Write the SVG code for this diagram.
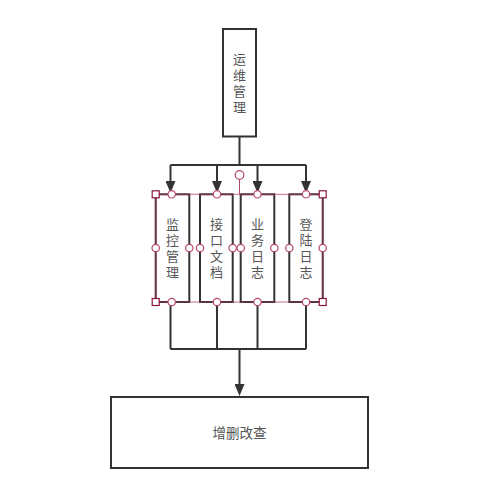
<svg xmlns="http://www.w3.org/2000/svg" width="494" height="493" viewBox="0 0 494 493">
<style>
.box{fill:#fff;stroke:#333;stroke-width:2}
.lbl{font-family:"Noto Sans CJK SC","Noto Sans",sans-serif;font-size:13px;fill:#555;text-anchor:middle}
.con{fill:none;stroke:#333;stroke-width:2}
.h{fill:#fff;stroke:#b5466a;stroke-width:1.2}
.sq{fill:#fff;stroke:#8b1538;stroke-width:1.2}
.sel{fill:none;stroke:#b03060;stroke-width:1;opacity:0.7}
</style>
<defs>
<marker id="arr" viewBox="0 0 12 10" refX="0" refY="5" markerWidth="12" markerHeight="10" markerUnits="userSpaceOnUse" orient="auto">
<path d="M0,0 L12,5 L0,10 z" fill="#333"/>
</marker>
</defs>
<rect width="494" height="493" fill="#fff"/>
<g id="connectors">
<path class="con" d="M239.5,136.5 V165 M170.5,165 H306"/>
<path class="con" d="M170.5,165 V181" marker-end="url(#arr)"/>
<path class="con" d="M217,165 V181" marker-end="url(#arr)"/>
<path class="con" d="M257.5,165 V181" marker-end="url(#arr)"/>
<path class="con" d="M306,165 V181" marker-end="url(#arr)"/>
<path class="con" d="M170.5,302 V349 M217,302 V349 M257.5,302 V349 M306,302 V349 M170.5,349 H306"/>
<path class="con" d="M239.5,349 V384" marker-end="url(#arr)"/>
</g>
<g id="node-ops">
<rect class="box" x="223" y="29" width="33" height="107.5"/>
<text class="lbl" x="239.5" y="64">运<tspan x="239.5" dy="16">维</tspan><tspan x="239.5" dy="16">管</tspan><tspan x="239.5" dy="16">理</tspan></text>
</g>
<g id="node-monitor">
<rect class="box" x="155.7" y="194.3" width="33.6" height="107.7"/>
<text class="lbl" x="172.5" y="229">监<tspan x="172.5" dy="16">控</tspan><tspan x="172.5" dy="16">管</tspan><tspan x="172.5" dy="16">理</tspan></text>
</g>
<g id="node-api">
<rect class="box" x="200" y="194.3" width="32.7" height="107.7"/>
<text class="lbl" x="216.5" y="229">接<tspan x="216.5" dy="16">口</tspan><tspan x="216.5" dy="16">文</tspan><tspan x="216.5" dy="16">档</tspan></text>
</g>
<g id="node-bizlog">
<rect class="box" x="240.7" y="194.3" width="33.6" height="107.7"/>
<text class="lbl" x="257.5" y="229">业<tspan x="257.5" dy="16">务</tspan><tspan x="257.5" dy="16">日</tspan><tspan x="257.5" dy="16">志</tspan></text>
</g>
<g id="node-loginlog">
<rect class="box" x="289.3" y="194.3" width="33.4" height="107.7"/>
<text class="lbl" x="306" y="229">登<tspan x="306" dy="16">陆</tspan><tspan x="306" dy="16">日</tspan><tspan x="306" dy="16">志</tspan></text>
</g>
<g id="node-crud">
<rect class="box" x="111" y="397" width="257" height="71"/>
<text class="lbl" x="239.5" y="438" style="font-size:13.5px">增删改查</text>
</g>
<g id="selection">
<rect class="sel" x="155.7" y="194.3" width="167" height="107.7"/>
<line x1="239.5" y1="179.3" x2="239.5" y2="194.3" stroke="#b5466a" stroke-width="1"/>
<circle class="h" cx="239.5" cy="175" r="4.3"/>
<circle class="h" cx="171.7" cy="194.3" r="3.7"/>
<circle class="h" cx="217" cy="194.3" r="3.7"/>
<circle class="h" cx="257.5" cy="194.3" r="3.7"/>
<circle class="h" cx="306" cy="194.3" r="3.7"/>
<circle class="h" cx="171.7" cy="302" r="3.7"/>
<circle class="h" cx="217" cy="302" r="3.7"/>
<circle class="h" cx="257.5" cy="302" r="3.7"/>
<circle class="h" cx="306" cy="302" r="3.7"/>
<circle class="h" cx="155.7" cy="248" r="3.7"/>
<circle class="h" cx="189.3" cy="248" r="3.7"/>
<circle class="h" cx="200" cy="248" r="3.7"/>
<circle class="h" cx="232.7" cy="248" r="3.7"/>
<circle class="h" cx="240.7" cy="248" r="3.7"/>
<circle class="h" cx="274.3" cy="248" r="3.7"/>
<circle class="h" cx="289.3" cy="248" r="3.7"/>
<circle class="h" cx="322.7" cy="248" r="3.7"/>
<rect class="sq" x="152.2" y="190.8" width="7" height="7"/>
<rect class="sq" x="319.2" y="190.8" width="7" height="7"/>
<rect class="sq" x="152.2" y="298.5" width="7" height="7"/>
<rect class="sq" x="319.2" y="298.5" width="7" height="7"/>
</g>
</svg>
